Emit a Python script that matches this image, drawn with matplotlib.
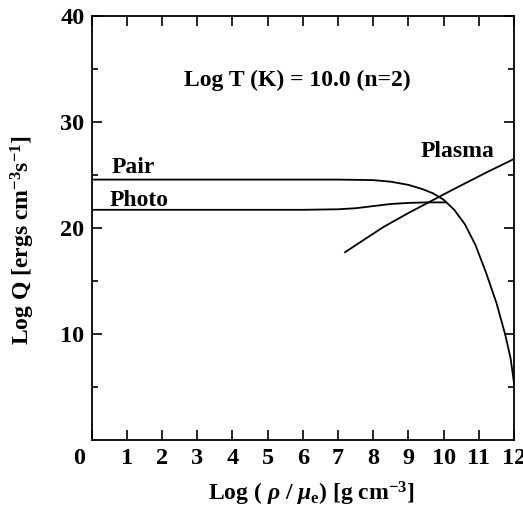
import matplotlib
matplotlib.use("Agg")
import matplotlib.pyplot as plt
import matplotlib.transforms as mtransforms

# curves: log density vs log emissivity
pair_x = [0.0, 7.0, 8.0, 8.5, 9.0, 9.4, 9.7, 10.0, 10.3, 10.6, 10.9, 11.2, 11.5, 11.75, 11.9, 12.0]
pair_y = [24.55, 24.55, 24.5, 24.35, 24.05, 23.65, 23.25, 22.65, 21.7, 20.35, 18.4, 15.8, 12.9, 9.9, 7.7, 5.3]

photo_x = [0.0, 6.0, 7.0, 7.5, 8.0, 8.5, 9.0, 9.5, 10.05]
photo_y = [21.7, 21.7, 21.75, 21.85, 22.05, 22.25, 22.35, 22.4, 22.4]

plasma_x = [7.2, 7.7, 8.3, 9.0, 9.6, 10.2, 10.7, 11.2, 11.6, 12.0]
plasma_y = [17.7, 18.8, 20.1, 21.4, 22.45, 23.5, 24.35, 25.2, 25.85, 26.5]

x_ticks = list(range(0, 13))
y_ticks = [10, 20, 30, 40]
y_minor = [5, 15, 25, 35]

plt.rcParams["font.family"] = ["Liberation Serif", "DejaVu Serif"]
plt.rcParams["font.weight"] = "bold"
plt.rcParams["axes.labelweight"] = "bold"
plt.rcParams["mathtext.fontset"] = "custom"
plt.rcParams["mathtext.rm"] = "Liberation Serif:bold"
plt.rcParams["mathtext.it"] = "Liberation Serif:italic:bold"
plt.rcParams["mathtext.bf"] = "Liberation Serif:bold"

fig = plt.figure(figsize=(5.23, 5.08), dpi=100)
ax = fig.add_axes([0.175, 0.134, 0.808, 0.835])

ax.plot(pair_x, pair_y, color="black", lw=1.3)
ax.plot(photo_x, photo_y, color="black", lw=1.3)
ax.plot(plasma_x, plasma_y, color="black", lw=1.3)

ax.set_xlim(0, 12)
ax.set_ylim(0, 40)
ax.set_xticks(x_ticks)
ax.set_xticklabels([str(t) for t in x_ticks])
ax.set_yticks(y_ticks)
ax.set_yticklabels([str(t) for t in y_ticks])
ax.set_yticks(y_minor, minor=True)

ax.tick_params(which="both", direction="in", top=True, right=True,
               labelsize=17.5, width=1.2)
ax.tick_params(axis="x", which="major", length=7, pad=6)
ax.tick_params(axis="y", which="major", length=7, pad=5)
ax.tick_params(which="minor", length=4)
for sp in ax.spines.values():
    sp.set_linewidth(1.3)

# the "0" sits left of the corner in the original
lbl0 = ax.get_xticklabels()[0]
lbl0.set_transform(lbl0.get_transform() + mtransforms.ScaledTranslation(-12 / 100, 0, fig.dpi_scale_trans))

ax.set_xlabel("Log ( $\\it{\\rho}$ / $\\it{\\mu}_{\\rm e}$) [g cm$^{-3}$]", fontsize=17, fontweight="bold")
ax.xaxis.set_label_coords(0.52, -0.095)
ax.set_ylabel("Log Q [ergs cm$^{-3}$s$^{-1}$]", fontsize=17, fontweight="bold")
ax.yaxis.set_label_coords(-0.13, 0.47)

ax.text(5.85, 33.4, "Log T (K) = 10.0 (n=2)", ha="center", va="baseline", fontsize=17)
ax.text(0.57, 25.2, "Pair", ha="left", va="baseline", fontsize=17)
ax.text(0.52, 22.05, "Photo", ha="left", va="baseline", fontsize=17)
ax.text(9.35, 26.7, "Plasma", ha="left", va="baseline", fontsize=17)

fig.savefig("out.png", dpi=100)
